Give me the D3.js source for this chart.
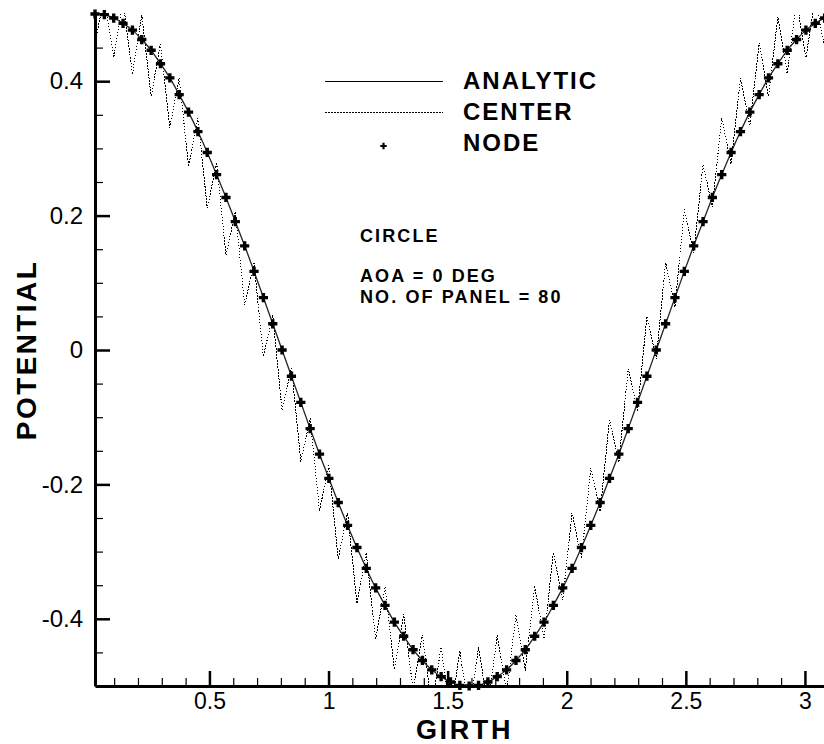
<!DOCTYPE html>
<html>
<head>
<meta charset="utf-8">
<script src="https://cdn.jsdelivr.net/npm/d3@7"></script>
<style>
  html, body { margin: 0; padding: 0; background: #ffffff; }
  svg { display: block; }
  text { font-family: "Liberation Sans", Arial, Helvetica, sans-serif; fill: #000; }
</style>
</head>
<body>
<svg id="chart" width="824" height="744"></svg>
<script>
// Girth position of each of the 80 panel stations along the circle
const girth = [
  0.0196, 0.0589, 0.0982, 0.1374, 0.1767, 0.2160, 0.2553, 0.2945, 0.3338, 0.3731,
  0.4123, 0.4516, 0.4909, 0.5301, 0.5694, 0.6087, 0.6480, 0.6872, 0.7265, 0.7658,
  0.8050, 0.8443, 0.8836, 0.9228, 0.9621, 1.0014, 1.0407, 1.0799, 1.1192, 1.1585,
  1.1977, 1.2370, 1.2763, 1.3155, 1.3548, 1.3941, 1.4334, 1.4726, 1.5119, 1.5512,
  1.5904, 1.6297, 1.6690, 1.7082, 1.7475, 1.7868, 1.8261, 1.8653, 1.9046, 1.9439,
  1.9831, 2.0224, 2.0617, 2.1009, 2.1402, 2.1795, 2.2187, 2.2580, 2.2973, 2.3366,
  2.3758, 2.4151, 2.4544, 2.4936, 2.5329, 2.5722, 2.6114, 2.6507, 2.6900, 2.7293,
  2.7685, 2.8078, 2.8471, 2.8863, 2.9256, 2.9649, 3.0041, 3.0434, 3.0827, 3.1220
];

// Exact surface potential
const analytic = [
  0.500, 0.499, 0.494, 0.486, 0.476, 0.462, 0.446, 0.426, 0.405, 0.380,
  0.354, 0.325, 0.294, 0.261, 0.227, 0.191, 0.155, 0.117, 0.078, 0.039,
  0.000, -0.039, -0.078, -0.117, -0.155, -0.191, -0.227, -0.261, -0.294, -0.325,
  -0.354, -0.380, -0.405, -0.426, -0.446, -0.462, -0.476, -0.486, -0.494, -0.499,
  -0.500, -0.499, -0.494, -0.486, -0.476, -0.462, -0.446, -0.426, -0.405, -0.380,
  -0.354, -0.325, -0.294, -0.261, -0.227, -0.191, -0.155, -0.117, -0.078, -0.039,
  0.000, 0.039, 0.078, 0.117, 0.155, 0.191, 0.227, 0.261, 0.294, 0.325,
  0.354, 0.380, 0.405, 0.426, 0.446, 0.462, 0.476, 0.486, 0.494, 0.499
];

// Panel-method potential evaluated at the panel centers
const center = [
  0.458, 0.525, 0.435, 0.520, 0.410, 0.499, 0.377, 0.457, 0.331, 0.405,
  0.273, 0.345, 0.211, 0.279, 0.141, 0.206, 0.067, 0.129, -0.010, 0.052,
  -0.090, -0.025, -0.166, -0.102, -0.239, -0.172, -0.311, -0.242, -0.377, -0.302,
  -0.431, -0.352, -0.475, -0.393, -0.506, -0.424, -0.531, -0.442, -0.542, -0.448,
  -0.542, -0.442, -0.531, -0.424, -0.510, -0.394, -0.477, -0.351, -0.430, -0.301,
  -0.372, -0.242, -0.310, -0.176, -0.240, -0.104, -0.167, -0.028, -0.090, 0.050,
  -0.013, 0.130, 0.064, 0.209, 0.144, 0.276, 0.213, 0.345, 0.277, 0.405,
  0.334, 0.457, 0.377, 0.496, 0.411, 0.520, 0.435, 0.525, 0.449, 0.530
];

// Panel-method potential at the nodes
const node = [
  0.500, 0.499, 0.494, 0.486, 0.476, 0.462, 0.446, 0.426, 0.405, 0.380,
  0.354, 0.325, 0.294, 0.261, 0.227, 0.191, 0.155, 0.117, 0.078, 0.039,
  0.000, -0.039, -0.078, -0.117, -0.155, -0.191, -0.227, -0.261, -0.294, -0.325,
  -0.354, -0.380, -0.405, -0.426, -0.446, -0.462, -0.476, -0.486, -0.494, -0.499,
  -0.500, -0.499, -0.494, -0.486, -0.476, -0.462, -0.446, -0.426, -0.405, -0.380,
  -0.354, -0.325, -0.294, -0.261, -0.227, -0.191, -0.155, -0.117, -0.078, -0.039,
  0.000, 0.039, 0.078, 0.117, 0.155, 0.191, 0.227, 0.261, 0.294, 0.325,
  0.354, 0.380, 0.405, 0.426, 0.446, 0.462, 0.476, 0.486, 0.494, 0.499
];

const xTicks = [0.5, 1, 1.5, 2, 2.5, 3];
const yTicks = [-0.4, -0.2, 0, 0.2, 0.4];
const xTitle = "GIRTH";
const yTitle = "POTENTIAL";
const legendLabels = ["ANALYTIC", "CENTER", "NODE"];
const noteLines = ["CIRCLE", "AOA = 0 DEG", "NO. OF PANEL = 80"];

const svg = d3.select("#chart");

const x = d3.scaleLinear().domain([girth[0], girth[girth.length - 1]]).range([95, 834]);
const y = d3.scaleLinear().domain([-0.5, 0.5]).range([686, 14]);
const numFmt = v => d3.format("")(v).replace("\u2212", "-");

// Clip the curves to the plot frame
svg.append("defs").append("clipPath").attr("id", "plotClip")
  .append("rect").attr("x", 95).attr("y", 13).attr("width", 740).attr("height", 674);

const plot = svg.append("g").attr("clip-path", "url(#plotClip)");

const pts = girth.map((g, i) => i);

// Center values: fine dotted line
plot.append("path")
  .attr("d", d3.line().x(i => x(girth[i])).y(i => y(center[i]))(pts))
  .attr("fill", "none").attr("stroke", "#000").attr("stroke-width", 1)
  .attr("stroke-dasharray", "1.5,1.5")
  .attr("shape-rendering", "crispEdges");

// Analytic: thin solid smooth line
plot.append("path")
  .attr("d", d3.line().curve(d3.curveCatmullRom).x(i => x(girth[i])).y(i => y(analytic[i]))(pts))
  .attr("fill", "none").attr("stroke", "#222").attr("stroke-width", 1.3);

// Axes: minor ticks first, then the major ticks with labels and the axis line
const yMinor = d3.range(-0.45, 0.46, 0.05).map(v => +v.toFixed(2)).filter(v => !yTicks.some(t => Math.abs(t - v) < 1e-6));
const xMinor = d3.range(0.1, 3.11, 0.1).map(v => +v.toFixed(1)).filter(v => !xTicks.some(t => Math.abs(t - v) < 1e-6));

svg.append("g").attr("transform", "translate(0,686)")
  .call(d3.axisBottom(x).tickValues(xMinor).tickSize(-8).tickFormat(""))
  .call(g => g.select(".domain").remove())
  .call(g => g.selectAll(".tick line").attr("stroke", "#000").attr("stroke-width", 1.2));
svg.append("g").attr("transform", "translate(0,686)")
  .call(d3.axisBottom(x).tickValues(xTicks).tickSizeInner(-15).tickSizeOuter(0).tickPadding(7).tickFormat(numFmt))
  .call(g => g.select(".domain").attr("stroke", "#000").attr("stroke-width", 3))
  .call(g => g.selectAll(".tick line").attr("stroke", "#000").attr("stroke-width", 2.5))
  .call(g => g.selectAll(".tick text").attr("font-size", 23).attr("font-family", "Liberation Sans, Arial, sans-serif").attr("fill", "#000"));

svg.append("g").attr("transform", "translate(95,0)")
  .call(d3.axisLeft(y).tickValues(yMinor).tickSize(-8).tickFormat(""))
  .call(g => g.select(".domain").remove())
  .call(g => g.selectAll(".tick line").attr("stroke", "#000").attr("stroke-width", 1.2));
svg.append("g").attr("transform", "translate(95,0)")
  .call(d3.axisLeft(y).tickValues(yTicks).tickSizeInner(-15).tickSizeOuter(0).tickPadding(12).tickFormat(numFmt))
  .call(g => g.select(".domain").attr("stroke", "#000").attr("stroke-width", 3))
  .call(g => g.selectAll(".tick line").attr("stroke", "#000").attr("stroke-width", 2.5))
  .call(g => g.selectAll(".tick text").attr("font-size", 24).attr("font-family", "Liberation Sans, Arial, sans-serif").attr("fill", "#000"));

// Node markers: bold plus signs
const plus = s => `M${-s},0H${s}M0,${-s}V${s}`;
svg.append("g").selectAll("path").data(pts).join("path")
  .attr("transform", i => `translate(${x(girth[i])},${y(node[i])})`)
  .attr("d", plus(4.6))
  .attr("stroke", "#000").attr("stroke-width", 3.4).attr("fill", "none");

// Axis titles
svg.append("text")
  .attr("x", (x.range()[0] + x.range()[1]) / 2).attr("y", 739)
  .attr("text-anchor", "middle").attr("font-size", 27).attr("font-weight", "bold")
  .attr("letter-spacing", 2.6)
  .text(xTitle);
svg.append("text")
  .attr("transform", "translate(36,350) rotate(-90)")
  .attr("text-anchor", "middle").attr("font-size", 28).attr("font-weight", "bold")
  .attr("letter-spacing", 2.4)
  .text(yTitle);

// Legend
const legend = svg.append("g");
const legendY = [81.5, 112.5, 146];
legend.append("line").attr("x1", 325).attr("x2", 443).attr("y1", legendY[0]).attr("y2", legendY[0])
  .attr("stroke", "#000").attr("stroke-width", 1.2);
legend.append("line").attr("x1", 325).attr("x2", 443).attr("y1", legendY[1]).attr("y2", legendY[1])
  .attr("stroke", "#000").attr("stroke-width", 1).attr("stroke-dasharray", "1.5,1.5")
  .attr("shape-rendering", "crispEdges");
legend.append("path").attr("transform", `translate(383.5,${legendY[2]})`).attr("d", plus(3.2))
  .attr("stroke", "#000").attr("stroke-width", 2.2).attr("fill", "none");
legend.selectAll("text").data(legendLabels).join("text")
  .attr("x", 463).attr("y", (d, i) => [89, 120, 151][i])
  .attr("font-size", 24).attr("font-weight", "bold").attr("letter-spacing", 2)
  .text(d => d);

// Case annotation, one text block with three lines
const note = svg.append("text")
  .attr("font-size", 18).attr("font-weight", "bold").attr("letter-spacing", 2.1);
note.selectAll("tspan").data(noteLines).join("tspan")
  .attr("x", 360).attr("y", (d, i) => [242, 281.5, 302.5][i])
  .text(d => d);
</script>
</body>
</html>
